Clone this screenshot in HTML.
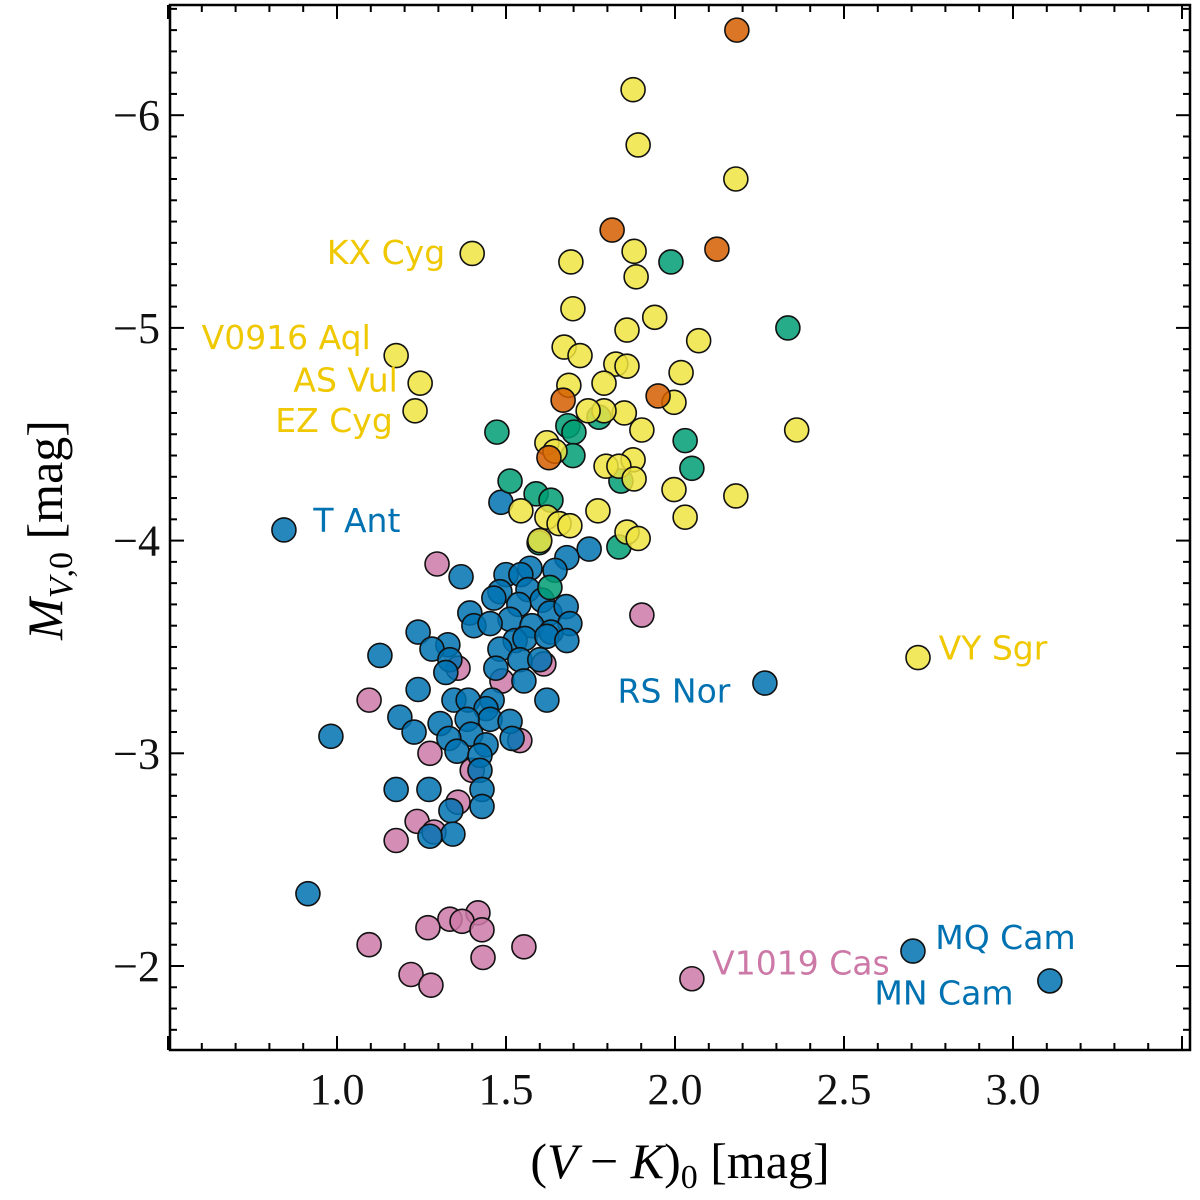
<!DOCTYPE html>
<html><head><meta charset="utf-8"><style>
body{margin:0;background:#fff}
svg{display:block}
.tk{font-family:"Liberation Serif",serif;font-size:44px;fill:#111}
.lb{font-family:"DejaVu Sans","Liberation Sans",sans-serif;font-size:33px}
</style></head><body>
<svg id="chart" width="1200" height="1200" viewBox="0 0 1200 1200">
<g id="ticks"></g>
<g id="pts"></g>
<rect x="170" y="5" width="1020" height="1045" fill="none" stroke="#000" stroke-width="2.5"/>
<g id="labels"></g>
<text x="680" y="1178" text-anchor="middle" font-family="Liberation Serif,serif" font-size="50">(<tspan font-style="italic">V</tspan> − <tspan font-style="italic">K</tspan>)<tspan font-size="34" dy="10">0</tspan><tspan dy="-10"> [mag]</tspan></text>
<text transform="translate(62,530) rotate(-90)" text-anchor="middle" font-family="Liberation Serif,serif" font-size="50"><tspan font-style="italic">M</tspan><tspan font-size="34" dy="10" font-style="italic">V</tspan><tspan font-size="34">,0</tspan><tspan dy="-10"> [mag]</tspan></text>
</svg>
<script>
const xTickVals=[1.0,1.5,2.0,2.5,3.0];
const xTickLabels=["1.0","1.5","2.0","2.5","3.0"];
const yTickVals=[-6,-5,-4,-3,-2];
const yTickLabels=["−6","−5","−4","−3","−2"];
const pinkX=[1.296,1.902,1.358,1.488,1.095,1.612,1.541,1.275,1.40,1.358,1.237,1.287,1.175,1.334,1.417,1.37,1.429,1.269,1.095,1.553,1.432,1.219,1.278,2.05];
const pinkY=[-3.89,-3.65,-3.40,-3.34,-3.25,-3.42,-3.06,-3.0,-2.92,-2.77,-2.68,-2.63,-2.59,-2.22,-2.25,-2.21,-2.17,-2.18,-2.10,-2.09,-2.04,-1.96,-1.91,-1.94];
const blueX=[0.843,1.485,1.367,1.746,1.68,1.50,1.571,1.544,1.482,1.645,1.565,1.464,1.607,1.538,1.393,1.512,1.63,1.678,1.405,1.453,1.689,1.577,1.633,1.24,1.328,1.527,1.556,1.621,1.68,1.482,1.281,1.334,1.127,1.541,1.60,1.322,1.47,1.553,1.621,2.266,1.24,1.346,1.388,1.459,1.441,1.186,1.453,1.512,1.385,1.305,1.228,1.396,1.331,1.441,1.518,1.355,0.982,1.423,1.423,1.175,1.272,1.429,1.429,1.337,1.343,1.275,0.914,2.704,3.109];
const blueY=[-4.05,-4.18,-3.83,-3.96,-3.92,-3.84,-3.87,-3.84,-3.76,-3.86,-3.77,-3.73,-3.72,-3.70,-3.66,-3.63,-3.66,-3.69,-3.60,-3.61,-3.61,-3.60,-3.57,-3.57,-3.51,-3.53,-3.54,-3.55,-3.53,-3.49,-3.49,-3.44,-3.46,-3.44,-3.44,-3.38,-3.40,-3.34,-3.25,-3.33,-3.30,-3.25,-3.25,-3.25,-3.21,-3.17,-3.16,-3.15,-3.16,-3.14,-3.10,-3.09,-3.07,-3.04,-3.07,-3.01,-3.08,-2.99,-2.92,-2.83,-2.83,-2.83,-2.75,-2.73,-2.62,-2.61,-2.34,-2.07,-1.93];
const greenX=[1.988,2.334,1.473,1.683,1.701,1.775,1.698,2.03,2.05,1.84,1.512,1.589,1.633,1.598,1.834,1.63];
const greenY=[-5.31,-5.0,-4.51,-4.54,-4.51,-4.58,-4.40,-4.47,-4.34,-4.28,-4.28,-4.22,-4.19,-3.99,-3.97,-3.78];
const yellowX=[1.876,1.891,2.18,1.40,1.879,1.885,1.692,1.698,1.94,1.858,1.175,2.07,1.672,1.719,1.246,1.231,1.686,1.825,1.858,1.79,2.018,1.85,1.79,1.743,1.997,1.902,2.36,1.621,1.645,1.796,1.876,1.834,1.879,1.997,2.18,1.544,1.772,2.03,1.621,1.657,1.689,1.858,1.891,1.60,2.719];
const yellowY=[-6.12,-5.86,-5.70,-5.35,-5.36,-5.24,-5.31,-5.09,-5.05,-4.99,-4.87,-4.94,-4.91,-4.87,-4.74,-4.61,-4.73,-4.83,-4.82,-4.74,-4.79,-4.60,-4.61,-4.61,-4.65,-4.52,-4.52,-4.46,-4.42,-4.35,-4.38,-4.35,-4.29,-4.24,-4.21,-4.14,-4.14,-4.11,-4.11,-4.08,-4.07,-4.04,-4.01,-4.0,-3.45];
const orangeX=[2.183,1.814,2.124,1.669,1.95,1.627];
const orangeY=[-6.40,-5.46,-5.37,-4.66,-4.68,-4.39];
const labelText=["KX Cyg","V0916 Aql","AS Vul","EZ Cyg","T Ant","VY Sgr","RS Nor","MQ Cam","V1019 Cas","MN Cam"];
const labelX=[1.32,1.10,1.18,1.165,0.93,2.78,1.83,2.77,2.11,2.59];
const labelY=[-5.30,-4.90,-4.70,-4.51,-4.04,-3.44,-3.24,-2.08,-1.96,-1.82];
const labelColor=["#f0c800","#f0c800","#f0c800","#f0c800","#0072b2","#f0c800","#0072b2","#0072b2","#cc79a7","#0072b2"];
const labelAnchor=["end","end","end","end","start","start","start","start","start","start"];

const NS="http://www.w3.org/2000/svg";
const X=v=>337+(v-1)*338;
const Y=v=>966+(v+2)*212.7;
const tg=document.getElementById('ticks');
function line(x1,y1,x2,y2){const l=document.createElementNS(NS,'line');l.setAttribute('x1',x1);l.setAttribute('y1',y1);l.setAttribute('x2',x2);l.setAttribute('y2',y2);l.setAttribute('stroke','#000');l.setAttribute('stroke-width','2');


tg.appendChild(l);}
for(let i=5;i<=35;i++){const x=X(i/10);const big=i%5===0;const L=big?14:7;line(x,1050,x,1050-L);line(x,5,x,5+L);}
for(let i=-65;i<=-16;i++){const y=Y(i/10);if(y<5||y>1050)continue;const big=i%10===0;const L=big?14:7;line(170,y,170+L,y);line(1190,y,1190-L,y);}
xTickVals.forEach((v,i)=>{const t=document.createElementNS(NS,'text');t.setAttribute('x',X(v));t.setAttribute('y',1104);t.setAttribute('text-anchor','middle');t.setAttribute('class','tk');t.textContent=xTickLabels[i];


tg.appendChild(t);});
yTickVals.forEach((v,i)=>{const t=document.createElementNS(NS,'text');t.setAttribute('x',160);t.setAttribute('y',Y(v)+15);t.setAttribute('text-anchor','end');t.setAttribute('class','tk');t.textContent=yTickLabels[i];


tg.appendChild(t);});
const pg=document.getElementById('pts');
function series(xs,ys,fill,name){xs.forEach((x,i)=>{const c=document.createElementNS(NS,'circle');c.setAttribute('cx',X(x));c.setAttribute('cy',Y(ys[i]));c.setAttribute('r',12);c.setAttribute('fill',fill);c.setAttribute('fill-opacity','0.85');c.setAttribute('stroke','#111');c.setAttribute('stroke-width','1.6');


pg.appendChild(c);});}
series(pinkX,pinkY,'#cc79a7','pink-point');
series(blueX,blueY,'#0072b2','blue-point');
series(greenX,greenY,'#009e73','green-point');
series(yellowX,yellowY,'#f0e442','yellow-point');
series(orangeX,orangeY,'#d55e00','orange-point');
const lg=document.getElementById('labels');
labelText.forEach((s,i)=>{const t=document.createElementNS(NS,'text');t.setAttribute('x',X(labelX[i]));t.setAttribute('y',Y(labelY[i]));t.setAttribute('text-anchor',labelAnchor[i]);t.setAttribute('class','lb');t.setAttribute('fill',labelColor[i]);t.textContent=s;


lg.appendChild(t);});
</script>
</body></html>
